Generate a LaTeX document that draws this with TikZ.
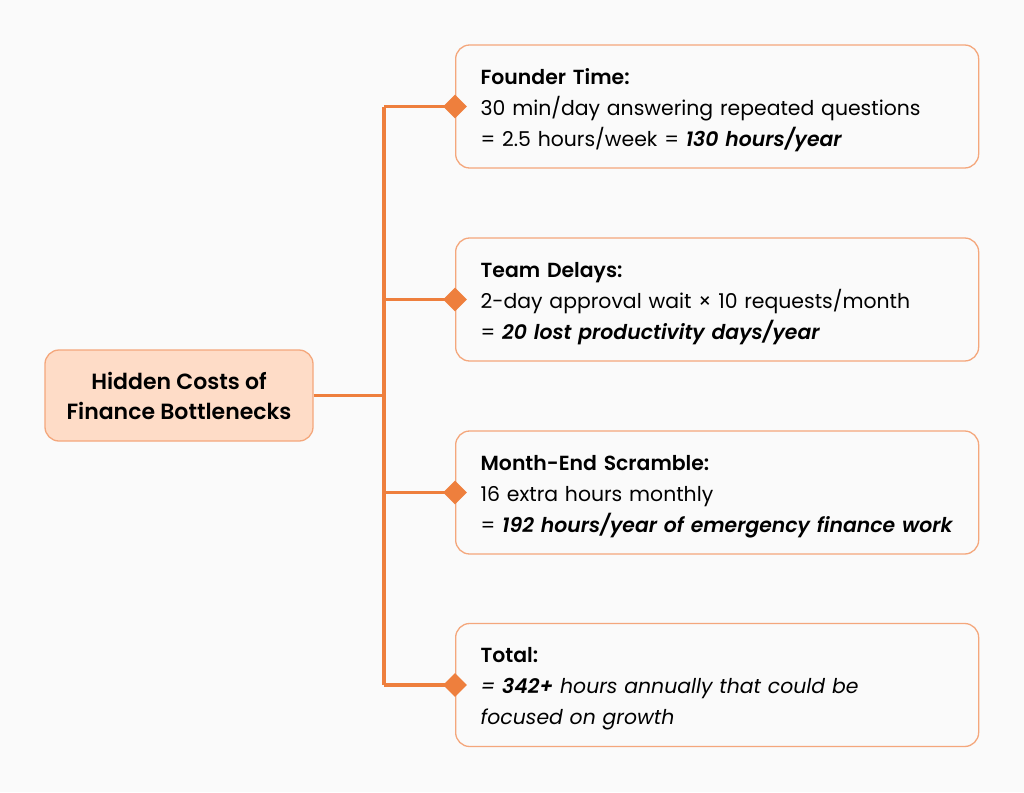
\documentclass[tikz,border=0pt]{standalone}
\usepackage{fontspec}
\setmainfont{Poppins}[BoldFont={Poppins SemiBold},BoldItalicFont={Poppins SemiBold Italic}]
\usetikzlibrary{shapes.geometric}
\definecolor{trunk}{HTML}{EE7F3D}
\definecolor{rim}{HTML}{F4A77C}
\definecolor{peach}{HTML}{FEDCC7}
\definecolor{paper}{HTML}{FAFAFA}
\tikzset{%
  rootbox/.style={draw=rim,fill=peach,line width=1.3,rounded corners=14,minimum width=268,minimum height=91,align=center,font=\fontsize{22}{30}\selectfont\bfseries},
  costbox/.style={draw=rim,fill=paper,line width=1.3,rounded corners=14,minimum width=523,minimum height=123,anchor=west,inner xsep=25,text width=473,align=left,font=\fontsize{20.4}{31}\selectfont,execute at begin node={\rule{0pt}{23pt}}},
  tdot/.style={draw=none,shape=diamond,fill=trunk,inner sep=0,minimum size=24},
  tedge/.style={draw=trunk,line width=3.7}
}

\begin{document}
\begin{tikzpicture}[x=1pt,y=1pt]
    \fill[paper] (0,0) rectangle (1024,-792);
    \useasboundingbox (0,0) rectangle (1024,-792);
    \node[rootbox] (root) at (179,-395.5) {Hidden Costs of\\Finance Bottlenecks};
    \node[costbox] (c1) at (455,-106.5) {\textbf{Founder Time:}\\30 min/day answering repeated questions\\= 2.5 hours/week = \textbf{\itshape 130 hours/year}};
    \node[costbox] (c2) at (455,-299.5) {\textbf{Team Delays:}\\2-day approval wait × 10 requests/month\\= \textbf{\itshape 20 lost productivity days/year}};
    \node[costbox] (c3) at (455,-492.5) {\textbf{Month-End Scramble:}\\16 extra hours monthly\\= \textbf{\itshape 192 hours/year of emergency finance work}};
    \node[costbox] (c4) at (455,-685) {\textbf{Total:}\\{\itshape = \textbf{342+} hours annually that could be\\focused on growth}};
    \coordinate (t0) at (384,-395.5);
    \coordinate (t1) at (384,-106.5);
    \coordinate (t2) at (384,-299.5);
    \coordinate (t3) at (384,-492.5);
    \coordinate (t4) at (384,-685);
    \draw[tedge] (root.east) -- (t0);
    \draw[tedge] (t1) -- (t4);
    \draw[tedge] (t1) -- (c1.west);
    \draw[tedge] (t2) -- (c2.west);
    \draw[tedge] (t3) -- (c3.west);
    \draw[tedge] (t4) -- (c4.west);
    \node[tdot] (d1) at (c1.west) {};
    \node[tdot] (d2) at (c2.west) {};
    \node[tdot] (d3) at (c3.west) {};
    \node[tdot] (d4) at (c4.west) {};
  \end{tikzpicture}
\end{document}
